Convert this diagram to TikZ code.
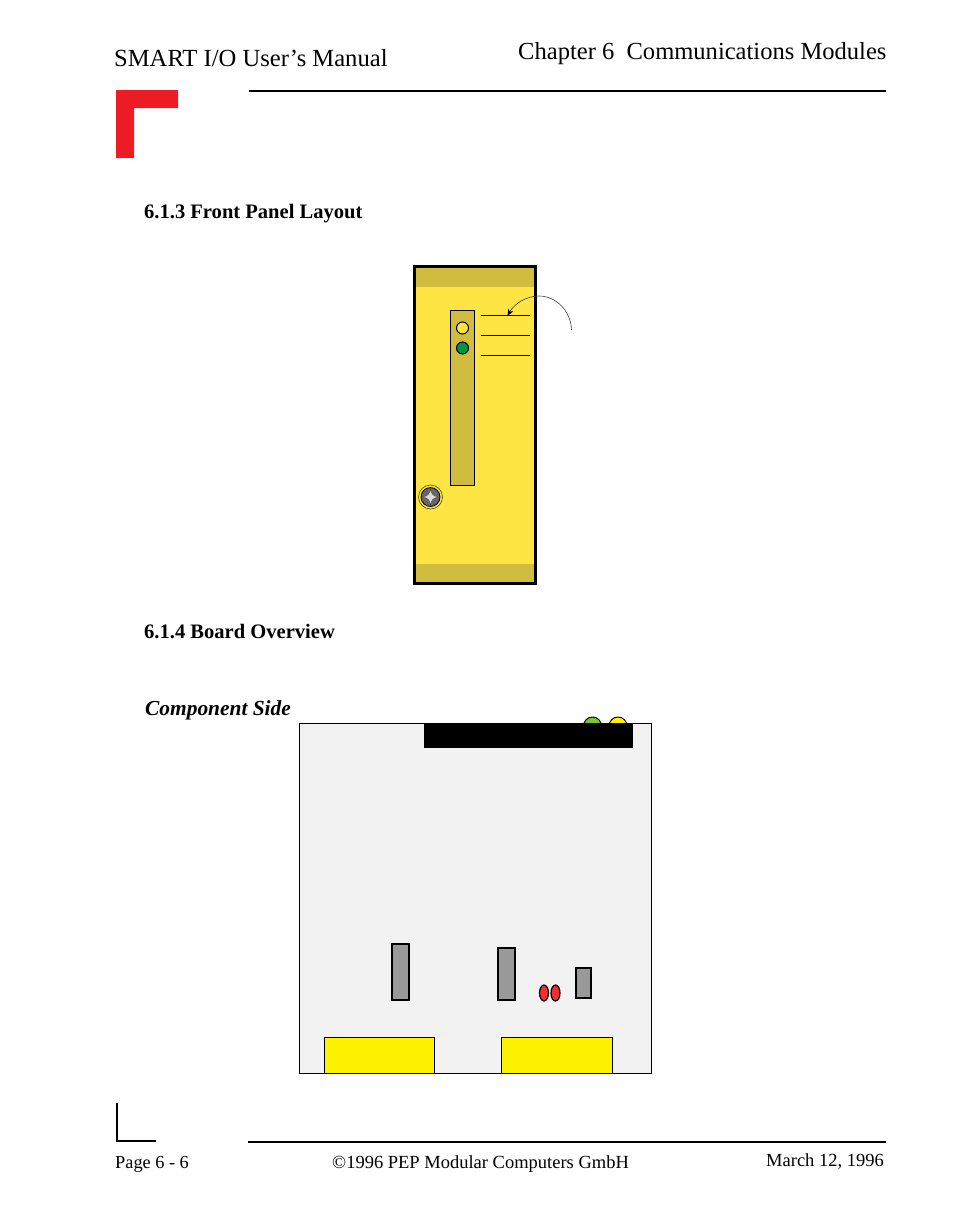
\documentclass[tikz,border=0pt]{standalone}
\usepackage{fontspec}
\usetikzlibrary{arrows.meta}
\setmainfont{Liberation Serif}
\definecolor{pepred}{HTML}{ED1C24}
\definecolor{panel}{HTML}{FFE544}
\definecolor{panelbar}{HTML}{D0BC3E}
\definecolor{ledgreen}{HTML}{009444}
\definecolor{board}{HTML}{F2F2F2}
\definecolor{conncol}{HTML}{FFF200}
\definecolor{partcol}{HTML}{999999}
\definecolor{ledred}{HTML}{EF3030}
\definecolor{ledlime}{HTML}{7AC72E}
\definecolor{screwgrey}{HTML}{66666C}
\newcommand{\fs}[1]{\fontsize{#1}{#1}\selectfont}
\tikzset{
  x=1pt,y=-1pt,
  txt/.style={inner sep=0pt,anchor=base west,text height=0pt,text depth=0pt},
  hrule/.style={line width=2pt},
  partbox/.style={draw=black,fill=partcol,line width=1.4pt},
  led/.style={draw=black,line width=1pt},
  connbox/.style={draw=black,fill=conncol,line width=0.9pt},
  tickline/.style={line width=1.1pt},
}
\begin{document}
\begin{tikzpicture}
\useasboundingbox (0,0) rectangle (954,1216);
\fill[white] (0,0) rectangle (954,1216);
% header
\node[txt] (title) at (114,66) {\fs{24.6}SMART I/O User’s Manual};
\node[txt] (chap) at (518,59) {\fs{24.55}Chapter 6\hspace{0.5em}Communications Modules};
\draw[hrule] (249,91) -- (886,91);
\fill[pepred] (116,90) -- (178,90) -- (178,108) -- (134,108) -- (134,158) -- (116,158) -- cycle;
% headings
\node[txt] (h1) at (144,218) {\fs{20.55}\bfseries 6.1.3 Front Panel Layout};
\node[txt] (h2) at (144,638) {\fs{20.55}\bfseries 6.1.4 Board Overview};
\node[txt] (h3) at (145,715) {\fs{21.4}\bfseries\itshape Component Side};
% front panel
\fill[panel] (414.5,266.5) rectangle (535.5,583.5);
\fill[panelbar] (415,267) rectangle (535,287);
\fill[panelbar] (415,564) rectangle (535,584);
\draw[line width=3pt] (414.5,266.5) rectangle (535.5,583.5);
\draw[fill=panelbar,line width=1pt] (450.5,310.5) rectangle (474.5,485.5);
\draw[led,fill=panel] (462.5,328) circle (6);
\draw[led,fill=ledgreen] (462.5,348) circle (6);
\draw[tickline] (481,315.5) -- (530,315.5);
\draw[tickline] (481,335.5) -- (530,335.5);
\draw[tickline] (481,355.5) -- (530,355.5);
\coordinate (arcend) at (571.5,330);
\coordinate (arctip) at (507.5,316);
\draw[line width=0.6pt,black!75,-{Stealth[length=7pt,width=5.5pt,black]}] (arcend) .. controls (571,311) and (556,296) .. (539,296) .. controls (526,296) and (514,304) .. (arctip);
% screw
\draw[draw=black!70!panel,line width=0.6pt] (430.5,497) circle (12);
\draw[fill=screwgrey,draw=black,line width=0.8pt] (430.5,497) circle (9.5);
\draw[white!85!black,draw=black!80,line width=0.3pt,fill=white!85!black] (430.5,488.5) .. controls (431.2,494) and (433,496.3) .. (439,497) .. controls (433,497.7) and (431.2,500) .. (430.5,505.5) .. controls (429.8,500) and (428,497.7) .. (422,497) .. controls (428,496.3) and (429.8,494) .. cycle;
% board
\draw[led,fill=ledlime] (592.5,726) circle (9);
\draw[led,fill=conncol] (618,726) circle (9);
\draw[fill=board,line width=0.9pt] (299.7,723.5) rectangle (651.5,1073.5);
\fill[black] (424,723) rectangle (633,748);
\draw[partbox] (392,944) rectangle (409,1000);
\draw[partbox] (498,948) rectangle (515,1000);
\draw[partbox] (576,968) rectangle (591,998);
\draw[led,fill=ledred,line width=1.2pt] (544,993) ellipse (4.5 and 8);
\draw[led,fill=ledred,line width=1.2pt] (555.5,993) ellipse (4.5 and 8);
\draw[connbox] (324.5,1037.5) rectangle (434.5,1073.5);
\draw[connbox] (501.5,1037.5) rectangle (612.5,1073.5);
% footer
\draw[line width=2pt] (117,1103) -- (117,1141) -- (156,1141);
\draw[hrule] (248,1142) -- (886,1142);
\node[txt] (page) at (115,1168) {\fs{18.3}Page 6 - 6};
\node[txt] (copy) at (332,1168) {\fs{18.5}©1996 PEP Modular Computers GmbH};
\node[txt] (date) at (766,1166) {\fs{18.5}March 12, 1996};
\end{tikzpicture}
\end{document}
